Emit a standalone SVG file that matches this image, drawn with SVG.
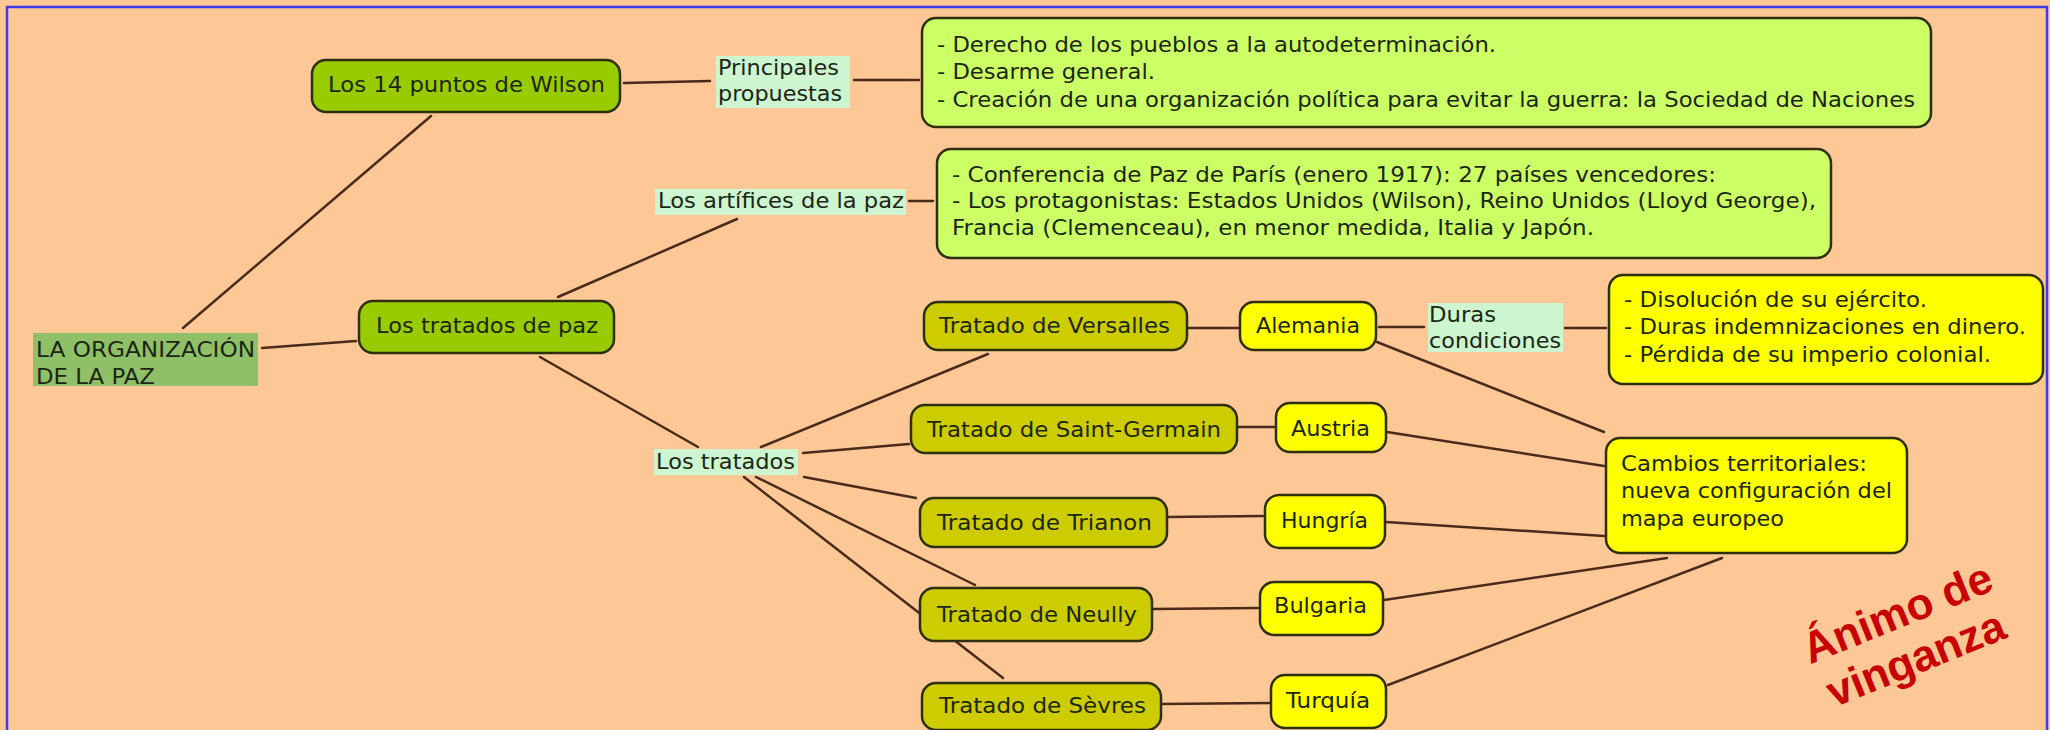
<svg xmlns="http://www.w3.org/2000/svg" width="2050" height="730" viewBox="0 0 2050 730">
<style>
.bg{fill:#FDC896}
.frame{fill:none;stroke:#3C3CE8;stroke-width:2.5}
.box{stroke:#2E2E10;stroke-width:2.5}
.g1{fill:#99CC00}
.lime{fill:#CCFF66}
.olive{fill:#CCCC00}
.yel{fill:#FFFF00}
.lbl{fill:#CCF5D0}
.root{fill:#8FBF66}
.t{font-family:"DejaVu Sans",Verdana,sans-serif;font-size:22px;fill:#1C2614}
.red{font-family:"Liberation Sans",Arial,sans-serif;font-weight:bold;font-size:44px;fill:#C80000;text-anchor:middle}
#connectors line{stroke:#4A2A1A;stroke-width:2.5;stroke-linecap:round}
</style>
<rect class="bg" x="0" y="0" width="2050" height="730"/>
<rect class="frame" x="7" y="7" width="2040" height="740"/>

<g id="connectors">
<line x1="183" y1="328" x2="431" y2="116"/>
<line x1="262" y1="348" x2="356" y2="341"/>
<line x1="558" y1="297" x2="737" y2="219"/>
<line x1="624" y1="83" x2="710" y2="81"/>
<line x1="854" y1="80" x2="919" y2="80"/>
<line x1="909" y1="201" x2="933" y2="201"/>
<line x1="540" y1="357" x2="698" y2="447"/>
<line x1="761" y1="447" x2="988" y2="354"/>
<line x1="803" y1="453" x2="909" y2="444"/>
<line x1="804" y1="477" x2="916" y2="498"/>
<line x1="756" y1="477" x2="975" y2="585"/>
<line x1="744" y1="477" x2="1003" y2="678"/>
<line x1="1188" y1="328" x2="1238" y2="328"/>
<line x1="1238" y1="427" x2="1274" y2="427"/>
<line x1="1167" y1="517" x2="1263" y2="516"/>
<line x1="1153" y1="609" x2="1258" y2="608"/>
<line x1="1161" y1="704" x2="1269" y2="703"/>
<line x1="1379" y1="327" x2="1424" y2="327"/>
<line x1="1565" y1="328" x2="1606" y2="328"/>
<line x1="1377" y1="342" x2="1604" y2="432"/>
<line x1="1387" y1="432" x2="1604" y2="466"/>
<line x1="1386" y1="522" x2="1604" y2="536"/>
<line x1="1384" y1="600" x2="1667" y2="558"/>
<line x1="1388" y1="685" x2="1722" y2="558"/>
</g>

<g id="root">
<rect class="root" x="33" y="333" width="225" height="53"/>
<text class="t" x="36" y="357" textLength="219" lengthAdjust="spacingAndGlyphs">LA ORGANIZACIÓN</text>
<text class="t" x="36" y="384" textLength="119" lengthAdjust="spacingAndGlyphs">DE LA PAZ</text>
</g>

<g id="wilson">
<rect class="box g1" x="312" y="60" width="308" height="52" rx="14"/>
<text class="t" x="328" y="92" textLength="277" lengthAdjust="spacingAndGlyphs">Los 14 puntos de Wilson</text>
</g>

<g id="tratados-paz">
<rect class="box g1" x="359" y="301" width="255" height="52" rx="14"/>
<text class="t" x="376" y="333" textLength="222" lengthAdjust="spacingAndGlyphs">Los tratados de paz</text>
</g>

<g id="principales">
<rect class="lbl" x="716" y="56" width="134" height="52"/>
<text class="t" x="718" y="75" textLength="121" lengthAdjust="spacingAndGlyphs">Principales</text>
<text class="t" x="718" y="101" textLength="124" lengthAdjust="spacingAndGlyphs">propuestas</text>
</g>

<g id="propuestas-box">
<rect class="box lime" x="922" y="18" width="1009" height="109" rx="14"/>
<text class="t" x="937" y="52" textLength="559" lengthAdjust="spacingAndGlyphs">- Derecho de los pueblos a la autodeterminación.</text>
<text class="t" x="937" y="79" textLength="218" lengthAdjust="spacingAndGlyphs">- Desarme general.</text>
<text class="t" x="937" y="107" textLength="978" lengthAdjust="spacingAndGlyphs">- Creación de una organización política para evitar la guerra: la Sociedad de Naciones</text>
</g>

<g id="artifices">
<rect class="lbl" x="655" y="189" width="251" height="26"/>
<text class="t" x="658" y="208" textLength="246" lengthAdjust="spacingAndGlyphs">Los artífices de la paz</text>
</g>

<g id="artifices-box">
<rect class="box lime" x="937" y="149" width="894" height="109" rx="14"/>
<text class="t" x="952" y="182" textLength="764" lengthAdjust="spacingAndGlyphs">- Conferencia de Paz de París (enero 1917): 27 países vencedores:</text>
<text class="t" x="952" y="208" textLength="864" lengthAdjust="spacingAndGlyphs">- Los protagonistas: Estados Unidos (Wilson), Reino Unidos (Lloyd George),</text>
<text class="t" x="952" y="235" textLength="642" lengthAdjust="spacingAndGlyphs">Francia (Clemenceau), en menor medida, Italia y Japón.</text>
</g>

<g id="los-tratados">
<rect class="lbl" x="654" y="449" width="144" height="26"/>
<text class="t" x="656" y="469" textLength="139" lengthAdjust="spacingAndGlyphs">Los tratados</text>
</g>

<g id="versalles">
<rect class="box olive" x="924" y="302" width="263" height="48" rx="14"/>
<text class="t" x="939" y="333" textLength="231" lengthAdjust="spacingAndGlyphs">Tratado de Versalles</text>
</g>
<g id="saint-germain">
<rect class="box olive" x="911" y="405" width="326" height="48" rx="14"/>
<text class="t" x="927" y="437" textLength="294" lengthAdjust="spacingAndGlyphs">Tratado de Saint-Germain</text>
</g>
<g id="trianon">
<rect class="box olive" x="920" y="498" width="247" height="49" rx="14"/>
<text class="t" x="937" y="530" textLength="215" lengthAdjust="spacingAndGlyphs">Tratado de Trianon</text>
</g>
<g id="neully">
<rect class="box olive" x="920" y="588" width="232" height="53" rx="14"/>
<text class="t" x="937" y="622" textLength="200" lengthAdjust="spacingAndGlyphs">Tratado de Neully</text>
</g>
<g id="sevres">
<rect class="box olive" x="922" y="683" width="239" height="47" rx="14"/>
<text class="t" x="939" y="713" textLength="207" lengthAdjust="spacingAndGlyphs">Tratado de Sèvres</text>
</g>

<g id="alemania">
<rect class="box yel" x="1240" y="302" width="136" height="48" rx="14"/>
<text class="t" x="1256" y="333" textLength="104" lengthAdjust="spacingAndGlyphs">Alemania</text>
</g>
<g id="austria">
<rect class="box yel" x="1276" y="403" width="110" height="49" rx="14"/>
<text class="t" x="1291" y="436" textLength="79" lengthAdjust="spacingAndGlyphs">Austria</text>
</g>
<g id="hungria">
<rect class="box yel" x="1265" y="495" width="120" height="53" rx="14"/>
<text class="t" x="1281" y="528" textLength="87" lengthAdjust="spacingAndGlyphs">Hungría</text>
</g>
<g id="bulgaria">
<rect class="box yel" x="1260" y="582" width="123" height="53" rx="14"/>
<text class="t" x="1274" y="613" textLength="93" lengthAdjust="spacingAndGlyphs">Bulgaria</text>
</g>
<g id="turquia">
<rect class="box yel" x="1271" y="675" width="115" height="53" rx="14"/>
<text class="t" x="1286" y="708" textLength="84" lengthAdjust="spacingAndGlyphs">Turquía</text>
</g>

<g id="duras">
<rect class="lbl" x="1428" y="303" width="135" height="49"/>
<text class="t" x="1429" y="322" textLength="67" lengthAdjust="spacingAndGlyphs">Duras</text>
<text class="t" x="1429" y="348" textLength="132" lengthAdjust="spacingAndGlyphs">condiciones</text>
</g>

<g id="condiciones-box">
<rect class="box yel" x="1609" y="275" width="434" height="109" rx="14"/>
<text class="t" x="1624" y="307" textLength="303" lengthAdjust="spacingAndGlyphs">- Disolución de su ejército.</text>
<text class="t" x="1624" y="334" textLength="402" lengthAdjust="spacingAndGlyphs">- Duras indemnizaciones en dinero.</text>
<text class="t" x="1624" y="362" textLength="367" lengthAdjust="spacingAndGlyphs">- Pérdida de su imperio colonial.</text>
</g>

<g id="cambios">
<rect class="box yel" x="1606" y="438" width="301" height="115" rx="14"/>
<text class="t" x="1621" y="471" textLength="246" lengthAdjust="spacingAndGlyphs">Cambios territoriales:</text>
<text class="t" x="1621" y="498" textLength="271" lengthAdjust="spacingAndGlyphs">nueva configuración del</text>
<text class="t" x="1621" y="526" textLength="163" lengthAdjust="spacingAndGlyphs">mapa europeo</text>
</g>

<g id="animo" transform="translate(1903,627) rotate(-22)">
<text class="red" x="0" y="0">Ánimo de</text>
<text class="red" x="0" y="49">vinganza</text>
</g>
</svg>
